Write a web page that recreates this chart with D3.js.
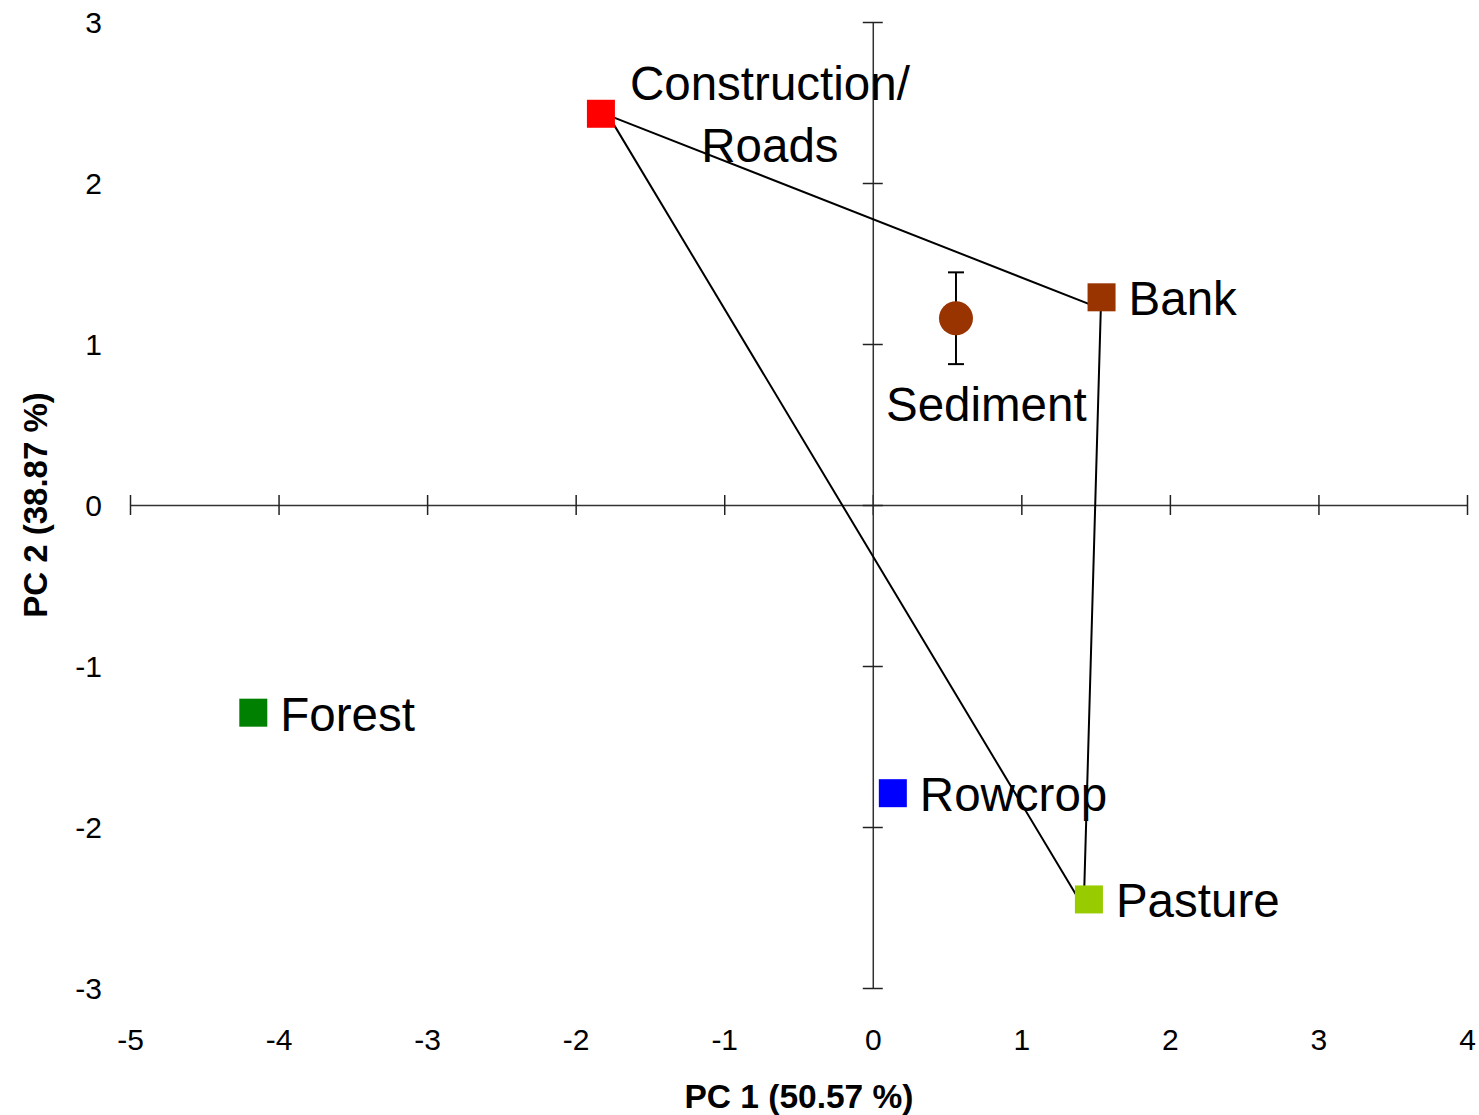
<!DOCTYPE html>
<html>
<head>
<meta charset="utf-8">
<style>
  body { margin: 0; background: #fff; }
  text { font-family: "Liberation Sans", Arial, sans-serif; }
</style>
</head>
<body>
<script src="https://d3js.org/d3.v7.min.js"></script>
<script>
  // sources (square markers)
  const names = ['Construction/\nRoads', 'Bank', 'Forest', 'Rowcrop', 'Pasture']
  const pc1 = [-1.83, 1.54, -4.17, 0.135, 1.455]
  const pc2 = [2.43, 1.29, -1.29, -1.79, -2.45]
  const colors = ['#FF0000', '#993300', '#008000', '#0000FF', '#99CC00']

  // sediment mean with error bar
  const sedX = 0.56
  const sedY = 1.16
  const sedErr = 0.285

  // mixing triangle vertices
  const triX = [-1.78, 1.535, 1.42]
  const triY = [2.42, 1.22, -2.50]

  const xTicks = [-5, -4, -3, -2, -1, 0, 1, 2, 3, 4]
  const yTicks = [-3, -2, -1, 0, 1, 2, 3]

  const width = 1479
  const height = 1115
  const labelSize = 47.5

  const svg = d3.select('body').append('svg')
    .attr('width', width)
    .attr('height', height)

  const x = d3.scaleLinear().domain([-5, 4]).range([130, 1467])
  const y = d3.scaleLinear().domain([-3, 3]).range([988, 22])

  // x axis through origin, ticks crossing the line
  const xAxis = svg.append('g')
    .attr('transform', `translate(0, ${y(0)})`)
    .call(d3.axisBottom(x).tickValues(xTicks).tickSize(10).tickSizeOuter(0).tickFormat(d => String(d)))
  xAxis.select('.domain').attr('stroke', '#333').attr('stroke-width', 1.5)
  xAxis.selectAll('.tick line').attr('y1', -10).attr('stroke', '#222').attr('stroke-width', 1.5)
  xAxis.selectAll('.tick text')
    .attr('y', 1050 - y(0)).attr('dy', 0)
    .attr('font-size', 30).attr('fill', '#000')
    .style('font-family', '"Liberation Sans", Arial, sans-serif')

  // y axis through origin
  const yAxis = svg.append('g')
    .attr('transform', `translate(${x(0)}, 0)`)
    .call(d3.axisLeft(y).tickValues(yTicks).tickSize(10).tickSizeOuter(0).tickFormat(d => String(d)))
  yAxis.select('.domain').attr('stroke', '#333').attr('stroke-width', 1.5)
  yAxis.selectAll('.tick line').attr('x1', 10).attr('stroke', '#222').attr('stroke-width', 1.5)
  yAxis.selectAll('.tick text')
    .attr('x', 102 - x(0)).attr('dy', '0.35em')
    .attr('font-size', 30).attr('fill', '#000')
    .style('font-family', '"Liberation Sans", Arial, sans-serif')

  // axis titles
  svg.append('text')
    .attr('x', 799).attr('y', 1108)
    .attr('text-anchor', 'middle')
    .attr('font-size', 33.5).attr('font-weight', 'bold')
    .text('PC 1 (50.57 %)')

  svg.append('text')
    .attr('transform', `translate(47, ${y(0)}) rotate(-90)`)
    .attr('text-anchor', 'middle')
    .attr('font-size', 33).attr('font-weight', 'bold')
    .text('PC 2 (38.87 %)')

  // triangle
  const tri = triX.map((d, i) => [x(d), y(triY[i])])
  svg.append('path')
    .attr('d', d3.line()(tri) + 'Z')
    .attr('fill', 'none')
    .attr('stroke', '#000')
    .attr('stroke-width', 2)

  // sediment error bar + circle
  const eb = svg.append('g').attr('stroke', '#000').attr('stroke-width', 2)
  eb.append('line')
    .attr('x1', x(sedX)).attr('x2', x(sedX))
    .attr('y1', y(sedY + sedErr)).attr('y2', y(sedY - sedErr))
  ;[sedY + sedErr, sedY - sedErr].forEach(v => {
    eb.append('line')
      .attr('x1', x(sedX) - 8).attr('x2', x(sedX) + 8)
      .attr('y1', y(v)).attr('y2', y(v))
  })
  svg.append('circle')
    .attr('cx', x(sedX)).attr('cy', y(sedY)).attr('r', 17)
    .attr('fill', '#993300')
  svg.append('text')
    .attr('x', x(sedX) - 70).attr('y', y(sedY) + 103)
    .attr('font-size', labelSize)
    .text('Sediment')

  // source squares
  const s = 28
  const pts = names.map((n, i) => ({ name: n, px: pc1[i], py: pc2[i], color: colors[i] }))
  svg.selectAll('rect.src')
    .data(pts)
    .enter().append('rect')
    .attr('class', 'src')
    .attr('x', d => x(d.px) - s / 2)
    .attr('y', d => y(d.py) - s / 2)
    .attr('width', s).attr('height', s)
    .attr('fill', d => d.color)

  // labels
  svg.selectAll('text.lbl')
    .data(pts.filter(d => !d.name.includes('\n')))
    .enter().append('text')
    .attr('class', 'lbl')
    .attr('x', d => x(d.px) + 27)
    .attr('y', d => y(d.py) + 18)
    .attr('font-size', labelSize)
    .text(d => d.name)

  const cr = pts[0]
  const crLines = cr.name.split('\n')
  svg.append('text')
    .attr('x', x(cr.px) + 169).attr('y', y(cr.py) - 14)
    .attr('text-anchor', 'middle')
    .attr('font-size', labelSize)
    .selectAll('tspan')
    .data(crLines)
    .enter().append('tspan')
    .attr('x', x(cr.px) + 169)
    .attr('dy', (d, i) => i === 0 ? 0 : 62)
    .text(d => d)
</script>
</body>
</html>
